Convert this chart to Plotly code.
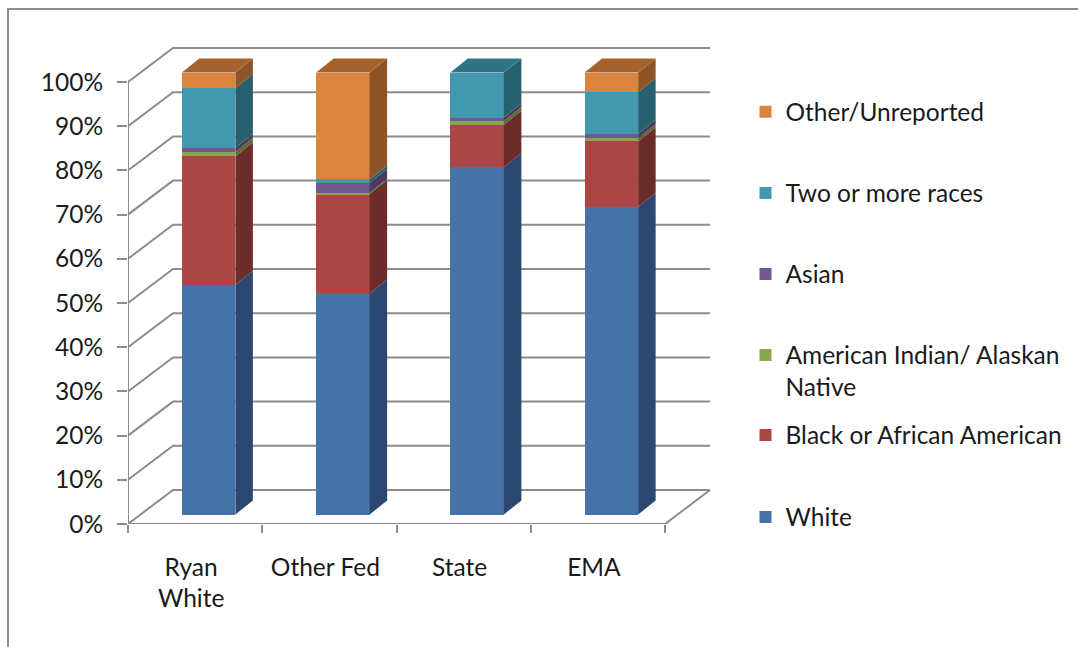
import plotly.graph_objects as go

# ---------------- data (percent) ----------------
categories = ["Ryan White", "Other Fed", "State", "EMA"]
tick_text = ["Ryan<br>White", "Other Fed", "State", "EMA"]
series_names = ["White", "Black or African American",
                "American Indian/ Alaskan<br>Native", "Asian",
                "Two or more races", "Other/Unreported"]
white = [52.0, 50.0, 78.6, 69.6]
black = [29.0, 22.5, 9.6, 14.8]
aian = [1.0, 0.3, 0.8, 0.75]
asian = [1.0, 2.2, 0.8, 1.0]
two_plus = [13.5, 0.8, 10.2, 9.4]
other = [3.5, 24.2, 0.0, 4.45]
y_ticks = [0, 10, 20, 30, 40, 50, 60, 70, 80, 90, 100]

# ---------------- styling ----------------
front_col = ["#4572A7", "#AA4643", "#89A54E", "#71588F", "#4198AF", "#DB843D"]
side_col = ["#2C4870", "#6C2C2A", "#586B32", "#4A3A5E", "#27606F", "#8E5427"]
top_col = ["#365C8A", "#883836", "#6E853E", "#5C4775", "#2F7386", "#A6622D"]
FONT = "Lato"
FS = 24.5
TXT = "#1a1a1a"
GRID = "#8C8C8C"

XU, YU = 134.25, 442.0          # px per x-unit / y-unit
L, B, T, R = 128, 123, 40, 348
W, H = 1078, 647
x_max = -0.5 + (W - L - R) / XU
y_max = (H - B - T) / YU

DXB, DYB = 45 / XU, 34 / YU      # back-wall depth
BDX, BDY = 13.5 / XU, 9.5 / YU   # bar depth position
BW = 53.5 / XU                   # bar width
SDX, SDY = 17.5 / XU, 14 / YU    # bar thickness (3D)
LBL_SHIFT = -4 / XU              # category label nudge

all_series = [white, black, aian, asian, two_plus, other]
n = len(categories)
xc = [i + BDX for i in range(n)]

fig = go.Figure()

# legend pixel centres
leg_py = [517, 435, 371, 274, 193, 111.7]
legend_names = ["legend", "legend2", "legend3", "legend4", "legend5", "legend6"]

cum = [0.0] * n
tops = [None] * n
for s, vals in enumerate(all_series):
    v = [x / 100 for x in vals]
    base = [BDY + c for c in cum]
    fig.add_trace(go.Bar(
        x=xc, y=v, base=base, width=BW, name=series_names[s],
        marker=dict(color=front_col[s], line=dict(width=0)),
        legend=legend_names[s], showlegend=True,
        hoverinfo="skip"))
    # side faces
    sx, sy = [], []
    for i in range(n):
        if v[i] <= 0:
            continue
        xr = xc[i] + BW / 2
        b0, t0 = base[i], base[i] + v[i]
        sx += [xr, xr + SDX, xr + SDX, xr, xr, None]
        sy += [b0, b0 + SDY, t0 + SDY, t0, b0, None]
        tops[i] = (s, t0)
    fig.add_trace(go.Scatter(x=sx, y=sy, mode="lines", fill="toself",
                             fillcolor=side_col[s], line=dict(width=0),
                             showlegend=False, hoverinfo="skip"))
    cum = [c + val for c, val in zip(cum, v)]

# top faces
for i in range(n):
    s, t0 = tops[i]
    xl, xr = xc[i] - BW / 2, xc[i] + BW / 2
    fig.add_trace(go.Scatter(
        x=[xl, xr, xr + SDX, xl + SDX, xl],
        y=[t0, t0, t0 + SDY, t0 + SDY, t0],
        mode="lines", fill="toself", fillcolor=top_col[s],
        line=dict(width=0), showlegend=False, hoverinfo="skip"))

# walls / gridlines
path = ""
x0, x1 = -0.5, n - 0.5
for t in y_ticks:
    v = t / 100
    path += f"M{x0},{v} L{x0 + DXB},{v + DYB} L{x1 + DXB},{v + DYB} "
path += f"M{x0},0 L{x1},0 L{x1 + DXB},{DYB} M{x0},0 L{x0},1"
shapes = [dict(type="path", path=path, xref="x", yref="y", layer="below",
               line=dict(color=GRID, width=2))]
# outer frame
shapes.append(dict(type="rect", xref="paper", yref="paper",
                   x0=(8 - L) / (W - L - R), x1=(W + 20 - L) / (W - L - R),
                   y0=-(B + 20) / (H - B - T), y1=(H - B - 9) / (H - B - T),
                   line=dict(color="#8C8C8C", width=2), layer="below"))

layout = dict(
    width=W, height=H,
    margin=dict(l=L, r=R, t=T, b=B, autoexpand=False),
    paper_bgcolor="white", plot_bgcolor="white",
    barmode="overlay", bargap=0,
    font=dict(family=FONT, size=FS, color=TXT),
    shapes=shapes,
    xaxis=dict(range=[-0.5, x_max], tickvals=[i + LBL_SHIFT for i in range(n)],
               ticktext=tick_text,
               ticks="", showgrid=False, zeroline=False, showline=False,
               ticklabelstandoff=26,
               minor=dict(tickvals=[i - 0.5 for i in range(n + 1)], ticks="outside",
                          ticklen=8, tickwidth=2, tickcolor=GRID, showgrid=False),
               tickfont=dict(family=FONT, size=FS, color=TXT)),
    yaxis=dict(range=[0, y_max], tickvals=[t / 100 for t in y_ticks],
               ticktext=[f"{t}%" for t in y_ticks],
               ticks="outside", ticklen=10, tickwidth=2, tickcolor=GRID,
               showgrid=False, zeroline=False, showline=False,
               ticklabelstandoff=9,
               tickfont=dict(family=FONT, size=FS, color=TXT)),
)
pw, ph = W - L - R, H - B - T
for s, ln in enumerate(legend_names):
    layout[ln] = dict(x=(745.5 - L) / pw, xanchor="left",
                      y=(H - B - leg_py[s]) / ph, yanchor="middle",
                      bgcolor="rgba(0,0,0,0)", borderwidth=0,
                      font=dict(family=FONT, size=FS, color=TXT),
                      valign="top")
fig.update_layout(**layout)
fig.write_html("out.html")
